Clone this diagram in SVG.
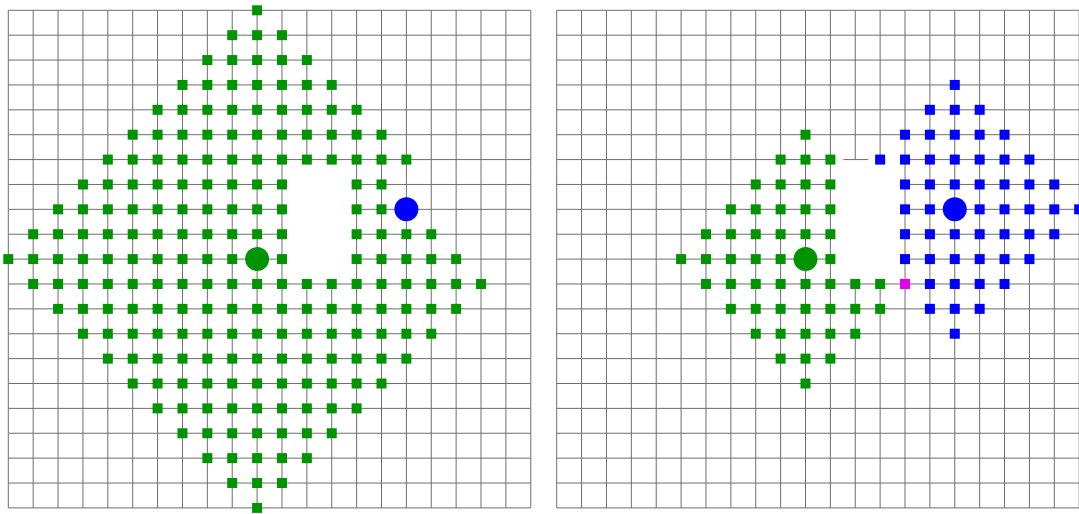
<svg xmlns="http://www.w3.org/2000/svg" xmlns:xlink="http://www.w3.org/1999/xlink" width="1079" height="514" viewBox="0 0 1079 514">
<style>
.grid{fill:none;stroke:#6e6e6e;stroke-width:1;vector-effect:non-scaling-stroke}
.gr{fill:#009400}
.bl{fill:#0000ff}
.mg{fill:#e000f0}
</style>
<defs>
<rect id="g" class="gr" x="-0.201" y="-0.201" width="0.402" height="0.402"/>
<rect id="b" class="bl" x="-0.201" y="-0.201" width="0.402" height="0.402"/>
<rect id="m" class="mg" x="-0.201" y="-0.201" width="0.402" height="0.402"/>
</defs>
<rect x="0" y="0" width="1079" height="514" fill="#ffffff"/>
<g id="left-panel" transform="translate(8.3 10.3) scale(24.88)">
<path id="left-grid" class="grid" d="M0 0H21M0 1H21M0 2H21M0 3H21M0 4H21M0 5H21M0 6H21M0 7H11M14 7H21M0 8H11M14 8H21M0 9H11M14 9H21M0 10H11M14 10H21M0 11H21M0 12H21M0 13H21M0 14H21M0 15H21M0 16H21M0 17H21M0 18H21M0 19H21M0 20H21M0 0V20M1 0V20M2 0V20M3 0V20M4 0V20M5 0V20M6 0V20M7 0V20M8 0V20M9 0V20M10 0V20M11 0V20M12 0V6M12 11V20M13 0V6M13 11V20M14 0V20M15 0V20M16 0V20M17 0V20M18 0V20M19 0V20M20 0V20M21 0V20"/>
<g id="left-nodes">
<g transform="translate(0 0)"><use href="#g" x="10"/></g>
<g transform="translate(0 1)"><use href="#g" x="9"/><use href="#g" x="10"/><use href="#g" x="11"/></g>
<g transform="translate(0 2)"><use href="#g" x="8"/><use href="#g" x="9"/><use href="#g" x="10"/><use href="#g" x="11"/><use href="#g" x="12"/></g>
<g transform="translate(0 3)"><use href="#g" x="7"/><use href="#g" x="8"/><use href="#g" x="9"/><use href="#g" x="10"/><use href="#g" x="11"/><use href="#g" x="12"/><use href="#g" x="13"/></g>
<g transform="translate(0 4)"><use href="#g" x="6"/><use href="#g" x="7"/><use href="#g" x="8"/><use href="#g" x="9"/><use href="#g" x="10"/><use href="#g" x="11"/><use href="#g" x="12"/><use href="#g" x="13"/><use href="#g" x="14"/></g>
<g transform="translate(0 5)"><use href="#g" x="5"/><use href="#g" x="6"/><use href="#g" x="7"/><use href="#g" x="8"/><use href="#g" x="9"/><use href="#g" x="10"/><use href="#g" x="11"/><use href="#g" x="12"/><use href="#g" x="13"/><use href="#g" x="14"/><use href="#g" x="15"/></g>
<g transform="translate(0 6)"><use href="#g" x="4"/><use href="#g" x="5"/><use href="#g" x="6"/><use href="#g" x="7"/><use href="#g" x="8"/><use href="#g" x="9"/><use href="#g" x="10"/><use href="#g" x="11"/><use href="#g" x="12"/><use href="#g" x="13"/><use href="#g" x="14"/><use href="#g" x="15"/><use href="#g" x="16"/></g>
<g transform="translate(0 7)"><use href="#g" x="3"/><use href="#g" x="4"/><use href="#g" x="5"/><use href="#g" x="6"/><use href="#g" x="7"/><use href="#g" x="8"/><use href="#g" x="9"/><use href="#g" x="10"/><use href="#g" x="11"/><use href="#g" x="14"/><use href="#g" x="15"/></g>
<g transform="translate(0 8)"><use href="#g" x="2"/><use href="#g" x="3"/><use href="#g" x="4"/><use href="#g" x="5"/><use href="#g" x="6"/><use href="#g" x="7"/><use href="#g" x="8"/><use href="#g" x="9"/><use href="#g" x="10"/><use href="#g" x="11"/><use href="#g" x="14"/><use href="#g" x="15"/></g>
<g transform="translate(0 9)"><use href="#g" x="1"/><use href="#g" x="2"/><use href="#g" x="3"/><use href="#g" x="4"/><use href="#g" x="5"/><use href="#g" x="6"/><use href="#g" x="7"/><use href="#g" x="8"/><use href="#g" x="9"/><use href="#g" x="10"/><use href="#g" x="11"/><use href="#g" x="14"/><use href="#g" x="15"/><use href="#g" x="16"/><use href="#g" x="17"/></g>
<g transform="translate(0 10)"><use href="#g" x="0"/><use href="#g" x="1"/><use href="#g" x="2"/><use href="#g" x="3"/><use href="#g" x="4"/><use href="#g" x="5"/><use href="#g" x="6"/><use href="#g" x="7"/><use href="#g" x="8"/><use href="#g" x="9"/><use href="#g" x="11"/><use href="#g" x="14"/><use href="#g" x="15"/><use href="#g" x="16"/><use href="#g" x="17"/><use href="#g" x="18"/></g>
<g transform="translate(0 11)"><use href="#g" x="1"/><use href="#g" x="2"/><use href="#g" x="3"/><use href="#g" x="4"/><use href="#g" x="5"/><use href="#g" x="6"/><use href="#g" x="7"/><use href="#g" x="8"/><use href="#g" x="9"/><use href="#g" x="10"/><use href="#g" x="11"/><use href="#g" x="12"/><use href="#g" x="13"/><use href="#g" x="14"/><use href="#g" x="15"/><use href="#g" x="16"/><use href="#g" x="17"/><use href="#g" x="18"/><use href="#g" x="19"/></g>
<g transform="translate(0 12)"><use href="#g" x="2"/><use href="#g" x="3"/><use href="#g" x="4"/><use href="#g" x="5"/><use href="#g" x="6"/><use href="#g" x="7"/><use href="#g" x="8"/><use href="#g" x="9"/><use href="#g" x="10"/><use href="#g" x="11"/><use href="#g" x="12"/><use href="#g" x="13"/><use href="#g" x="14"/><use href="#g" x="15"/><use href="#g" x="16"/><use href="#g" x="17"/><use href="#g" x="18"/></g>
<g transform="translate(0 13)"><use href="#g" x="3"/><use href="#g" x="4"/><use href="#g" x="5"/><use href="#g" x="6"/><use href="#g" x="7"/><use href="#g" x="8"/><use href="#g" x="9"/><use href="#g" x="10"/><use href="#g" x="11"/><use href="#g" x="12"/><use href="#g" x="13"/><use href="#g" x="14"/><use href="#g" x="15"/><use href="#g" x="16"/><use href="#g" x="17"/></g>
<g transform="translate(0 14)"><use href="#g" x="4"/><use href="#g" x="5"/><use href="#g" x="6"/><use href="#g" x="7"/><use href="#g" x="8"/><use href="#g" x="9"/><use href="#g" x="10"/><use href="#g" x="11"/><use href="#g" x="12"/><use href="#g" x="13"/><use href="#g" x="14"/><use href="#g" x="15"/><use href="#g" x="16"/></g>
<g transform="translate(0 15)"><use href="#g" x="5"/><use href="#g" x="6"/><use href="#g" x="7"/><use href="#g" x="8"/><use href="#g" x="9"/><use href="#g" x="10"/><use href="#g" x="11"/><use href="#g" x="12"/><use href="#g" x="13"/><use href="#g" x="14"/><use href="#g" x="15"/></g>
<g transform="translate(0 16)"><use href="#g" x="6"/><use href="#g" x="7"/><use href="#g" x="8"/><use href="#g" x="9"/><use href="#g" x="10"/><use href="#g" x="11"/><use href="#g" x="12"/><use href="#g" x="13"/><use href="#g" x="14"/></g>
<g transform="translate(0 17)"><use href="#g" x="7"/><use href="#g" x="8"/><use href="#g" x="9"/><use href="#g" x="10"/><use href="#g" x="11"/><use href="#g" x="12"/><use href="#g" x="13"/></g>
<g transform="translate(0 18)"><use href="#g" x="8"/><use href="#g" x="9"/><use href="#g" x="10"/><use href="#g" x="11"/><use href="#g" x="12"/></g>
<g transform="translate(0 19)"><use href="#g" x="9"/><use href="#g" x="10"/><use href="#g" x="11"/></g>
<g transform="translate(0 20)"><use href="#g" x="10"/></g>
</g>
<circle id="left-start" class="gr" cx="10" cy="10" r="0.482"/>
<circle id="left-goal" class="bl" cx="16" cy="8" r="0.482"/>
</g>
<g id="right-panel" transform="translate(556.7 10.3) scale(24.88)">
<path id="right-grid" class="grid" d="M0 0H21M0 1H21M0 2H21M0 3H21M0 4H21M0 5H21M0 6H11M14 6H21M11.52 6H12.52M0 7H11M14 7H21M0 8H11M14 8H21M0 9H11M14 9H21M0 10H11M14 10H21M0 11H21M0 12H21M0 13H21M0 14H21M0 15H21M0 16H21M0 17H21M0 18H21M0 19H21M0 20H21M0 0V20M1 0V20M2 0V20M3 0V20M4 0V20M5 0V20M6 0V20M7 0V20M8 0V20M9 0V20M10 0V20M11 0V20M12 0V6M12 11V20M13 0V6M13 11V20M14 0V20M15 0V20M16 0V20M17 0V20M18 0V20M19 0V20M20 0V20M21 0V20"/>
<g id="right-start-nodes">
<g transform="translate(0 5)"><use href="#g" x="10"/></g>
<g transform="translate(0 6)"><use href="#g" x="9"/><use href="#g" x="10"/><use href="#g" x="11"/></g>
<g transform="translate(0 7)"><use href="#g" x="8"/><use href="#g" x="9"/><use href="#g" x="10"/><use href="#g" x="11"/></g>
<g transform="translate(0 8)"><use href="#g" x="7"/><use href="#g" x="8"/><use href="#g" x="9"/><use href="#g" x="10"/><use href="#g" x="11"/></g>
<g transform="translate(0 9)"><use href="#g" x="6"/><use href="#g" x="7"/><use href="#g" x="8"/><use href="#g" x="9"/><use href="#g" x="10"/><use href="#g" x="11"/></g>
<g transform="translate(0 10)"><use href="#g" x="5"/><use href="#g" x="6"/><use href="#g" x="7"/><use href="#g" x="8"/><use href="#g" x="9"/><use href="#g" x="11"/></g>
<g transform="translate(0 11)"><use href="#g" x="6"/><use href="#g" x="7"/><use href="#g" x="8"/><use href="#g" x="9"/><use href="#g" x="10"/><use href="#g" x="11"/><use href="#g" x="12"/><use href="#g" x="13"/></g>
<g transform="translate(0 12)"><use href="#g" x="7"/><use href="#g" x="8"/><use href="#g" x="9"/><use href="#g" x="10"/><use href="#g" x="11"/><use href="#g" x="12"/><use href="#g" x="13"/></g>
<g transform="translate(0 13)"><use href="#g" x="8"/><use href="#g" x="9"/><use href="#g" x="10"/><use href="#g" x="11"/><use href="#g" x="12"/></g>
<g transform="translate(0 14)"><use href="#g" x="9"/><use href="#g" x="10"/><use href="#g" x="11"/></g>
<g transform="translate(0 15)"><use href="#g" x="10"/></g>
</g>
<g id="right-goal-nodes">
<g transform="translate(0 3)"><use href="#b" x="16"/></g>
<g transform="translate(0 4)"><use href="#b" x="15"/><use href="#b" x="16"/><use href="#b" x="17"/></g>
<g transform="translate(0 5)"><use href="#b" x="14"/><use href="#b" x="15"/><use href="#b" x="16"/><use href="#b" x="17"/><use href="#b" x="18"/></g>
<g transform="translate(0 6)"><use href="#b" x="13"/><use href="#b" x="14"/><use href="#b" x="15"/><use href="#b" x="16"/><use href="#b" x="17"/><use href="#b" x="18"/><use href="#b" x="19"/></g>
<g transform="translate(0 7)"><use href="#b" x="14"/><use href="#b" x="15"/><use href="#b" x="16"/><use href="#b" x="17"/><use href="#b" x="18"/><use href="#b" x="19"/><use href="#b" x="20"/></g>
<g transform="translate(0 8)"><use href="#b" x="14"/><use href="#b" x="15"/><use href="#b" x="17"/><use href="#b" x="18"/><use href="#b" x="19"/><use href="#b" x="20"/><use href="#b" x="21"/></g>
<g transform="translate(0 9)"><use href="#b" x="14"/><use href="#b" x="15"/><use href="#b" x="16"/><use href="#b" x="17"/><use href="#b" x="18"/><use href="#b" x="19"/><use href="#b" x="20"/></g>
<g transform="translate(0 10)"><use href="#b" x="14"/><use href="#b" x="15"/><use href="#b" x="16"/><use href="#b" x="17"/><use href="#b" x="18"/><use href="#b" x="19"/></g>
<g transform="translate(0 11)"><use href="#b" x="15"/><use href="#b" x="16"/><use href="#b" x="17"/><use href="#b" x="18"/></g>
<g transform="translate(0 12)"><use href="#b" x="15"/><use href="#b" x="16"/><use href="#b" x="17"/></g>
<g transform="translate(0 13)"><use href="#b" x="16"/></g>
</g>
<use id="right-meet" href="#m" x="14" y="11"/>
<circle id="right-start" class="gr" cx="10" cy="10" r="0.482"/>
<circle id="right-goal" class="bl" cx="16" cy="8" r="0.482"/>
</g>
</svg>
